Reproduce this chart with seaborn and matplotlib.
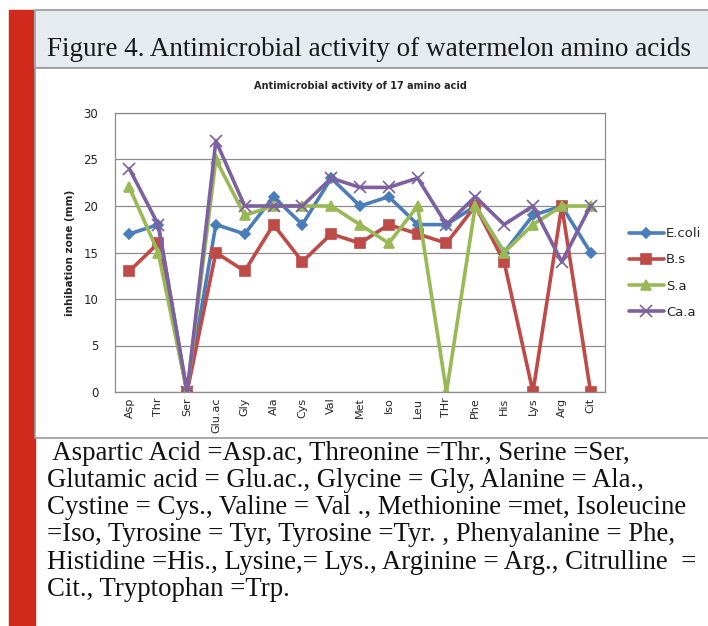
import pandas as pd
import seaborn as sns
import matplotlib.pyplot as plt
from matplotlib.patches import Rectangle

# data
amino = ["Asp", "Thr", "Ser", "Glu.ac", "Gly", "Ala", "Cys", "Val", "Met", "Iso",
         "Leu", "THr", "Phe", "His", "Lys", "Arg", "Cit"]
ecoli = [17, 18, 0, 18, 17, 21, 18, 23, 20, 21, 18, 18, 20, 15, 19, 20, 15]
bs = [13, 16, 0, 15, 13, 18, 14, 17, 16, 18, 17, 16, 20, 14, 0, 20, 0]
sa = [22, 15, 0, 25, 19, 20, 20, 20, 18, 16, 20, 0, 20, 15, 18, 20, 20]
caa = [24, 18, 0, 27, 20, 20, 20, 23, 22, 22, 23, 18, 21, 18, 20, 14, 20]

series = ["E.coli", "B.s", "S.a", "Ca.a"]
colors = ["#4a7ebb", "#be4b48", "#98b954", "#7d60a0"]
markers = ["D", "s", "^", "x"]
msizes = [5.5, 7.5, 7.5, 8]

caption = [
    " Aspartic Acid =Asp.ac, Threonine =Thr., Serine =Ser,",
    "Glutamic acid = Glu.ac., Glycine = Gly, Alanine = Ala.,",
    "Cystine = Cys., Valine = Val ., Methionine =met, Isoleucine",
    "=Iso, Tyrosine = Tyr, Tyrosine =Tyr. , Phenyalanine = Phe,",
    "Histidine =His., Lysine,= Lys., Arginine = Arg., Citrulline  =",
    "Cit., Tryptophan =Trp.",
]

sns.set_style("white")
plt.rcParams["font.family"] = ["DejaVu Sans"]

W, H = 708, 626
fig = plt.figure(figsize=(W / 100, H / 100), dpi=100)

def px(x, y, w, h):
    # pixel box (top-left origin) -> figure fraction
    return (x / W, 1 - (y + h) / H), w / W, h / H

# page decoration
xy, w, h = px(9, 10, 26, 616)
fig.patches.append(Rectangle(xy, w, h, transform=fig.transFigure, color="#d12a1d", zorder=-5))
xy, w, h = px(35, 10, 680, 58)
fig.patches.append(Rectangle(xy, w, h, transform=fig.transFigure, facecolor="#e5ebf1",
                             edgecolor="#a8a8a8", lw=1.5, zorder=-5))
xy, w, h = px(35, 68, 680, 370)
fig.patches.append(Rectangle(xy, w, h, transform=fig.transFigure, facecolor="white",
                             edgecolor="#9a9a9a", lw=1.2, zorder=-5))

fig.text(47 / W, 1 - 49 / H, "Figure 4. Antimicrobial activity of watermelon amino acids",
         family="Liberation Serif", fontsize=19.5, color="#1a1a1a",
         va="center", ha="left")

for i, line in enumerate(caption):
    fig.text(47 / W, 1 - (453 + 27.3 * i) / H, line, family="Liberation Serif",
             fontsize=19.3, color="#111111", va="center", ha="left")

ax = fig.add_axes([115 / W, 1 - 392 / H, 490 / W, 279 / H])
ax.set_zorder(2)
ax.set_facecolor("none")

data = {"E.coli": ecoli, "B.s": bs, "S.a": sa, "Ca.a": caa}
for name, c, m, ms in zip(series, colors, markers, msizes):
    df = pd.DataFrame({"amino": amino, "zone": data[name]})
    sns.lineplot(data=df, x="amino", y="zone", ax=ax, color=c, marker=m, markersize=ms,
                 markeredgecolor=c, markeredgewidth=1.2, lw=2.6, label=name, sort=False)

ax.set_ylim(0, 30)
ax.set_xlim(-0.5, len(amino) - 0.5)
ax.set_yticks(range(0, 31, 5))
ax.yaxis.grid(True, color="#8c8c8c", lw=0.9)
ax.set_axisbelow(True)
for s in ax.spines.values():
    s.set_color("#8c8c8c")
    s.set_linewidth(0.9)
ax.tick_params(axis="x", rotation=90, labelsize=8, length=0, pad=4)
ax.tick_params(axis="y", labelsize=8.5, length=0, pad=12)
ax.set_xlabel("")
ax.set_ylabel("inhibation zone (mm)", fontsize=7.5, fontweight="bold", labelpad=6)
ax.set_title("Antimicrobial activity of 17 amino acid", fontsize=7, fontweight="bold", pad=17)

ax.legend(loc="center left", bbox_to_anchor=(629 / W, 1 - 273 / H), bbox_transform=fig.transFigure,
          frameon=False, fontsize=9.5, handlelength=2.65, handletextpad=0.15, labelspacing=1.0,
          borderpad=0, borderaxespad=0)

fig.savefig("out.png", dpi=100)
